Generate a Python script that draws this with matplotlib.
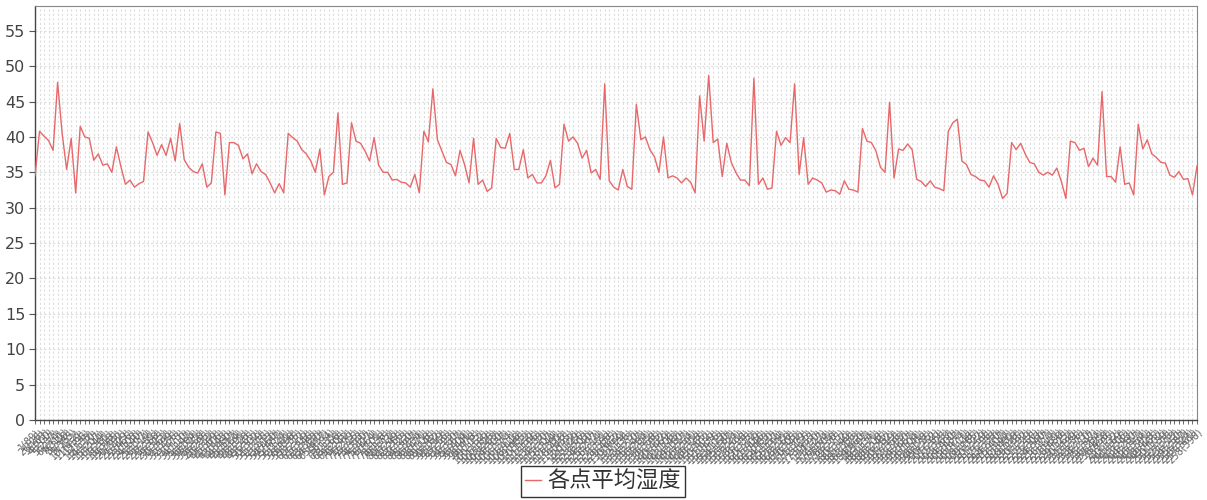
import matplotlib
matplotlib.use("Agg")
import matplotlib.pyplot as plt
from matplotlib.ticker import MultipleLocator

plt.rcParams['font.family'] = ['DejaVu Sans', 'Noto Sans CJK SC']

humidity = [
    34.5, 40.8, 40.1, 39.5, 38.1, 47.7, 40.5, 35.4, 39.8, 32.1,
    41.5, 40.0, 39.8, 36.7, 37.6, 36.0, 36.2, 35.0, 38.6, 35.8,
    33.3, 33.9, 32.9, 33.4, 33.7, 40.7, 39.2, 37.4, 38.9, 37.4,
    39.8, 36.6, 41.9, 36.8, 35.7, 35.1, 34.9, 36.2, 32.9, 33.5,
    40.7, 40.5, 31.8, 39.2, 39.2, 38.8, 36.9, 37.6, 34.8, 36.2,
    35.1, 34.7, 33.5, 32.1, 33.4, 32.1, 40.5, 39.9, 39.4, 38.2,
    37.6, 36.6, 35.0, 38.3, 31.8, 34.4, 35.0, 43.4, 33.3, 33.5,
    42.0, 39.4, 39.1, 38.0, 36.6, 39.9, 36.0, 35.0, 35.0, 33.9,
    34.0, 33.6, 33.5, 32.9, 34.7, 32.1, 40.8, 39.3, 46.8, 39.6,
    38.0, 36.4, 36.1, 34.5, 38.1, 36.1, 33.5, 39.8, 33.3, 33.9,
    32.3, 32.8, 39.8, 38.5, 38.4, 40.5, 35.4, 35.4, 38.2, 34.2,
    34.7, 33.5, 33.5, 34.5, 36.7, 32.8, 33.3, 41.8, 39.4, 40.0,
    39.1, 37.0, 38.1, 34.9, 35.4, 34.0, 47.5, 33.8, 32.9, 32.5,
    35.4, 33.0, 32.6, 44.6, 39.6, 40.0, 38.2, 37.2, 35.0, 40.0,
    34.2, 34.5, 34.2, 33.5, 34.2, 33.6, 32.1, 45.8, 39.4, 48.7,
    39.2, 39.7, 34.4, 39.1, 36.4, 35.0, 33.9, 33.9, 33.1, 48.3,
    33.3, 34.2, 32.6, 32.8, 40.8, 38.8, 39.9, 39.2, 47.5, 34.7,
    39.9, 33.3, 34.2, 33.9, 33.5, 32.2, 32.5, 32.4, 31.9, 33.8,
    32.6, 32.5, 32.2, 41.2, 39.4, 39.2, 38.0, 35.7, 35.0, 44.9,
    34.2, 38.3, 38.1, 39.0, 38.2, 34.0, 33.7, 33.0, 33.8, 32.9,
    32.7, 32.4, 40.8, 42.0, 42.5, 36.6, 36.1, 34.7, 34.4, 33.9,
    33.8, 32.9, 34.5, 33.3, 31.3, 32.0, 39.2, 38.2, 39.1, 37.6,
    36.4, 36.2, 35.0, 34.6, 35.0, 34.6, 35.6, 33.7, 31.3, 39.4,
    39.2, 38.1, 38.4, 35.8, 37.0, 36.0, 46.4, 34.4, 34.4, 33.6,
    38.6, 33.3, 33.5, 31.8, 41.8, 38.3, 39.6, 37.6, 37.1, 36.4,
    36.3, 34.6, 34.3, 35.1, 34.0, 34.1, 31.8, 35.9,
]
categories = [f"{i + 1}({(i * 37) % 400 + 89})" for i in range(len(humidity))]
series_name = "各点平均湿度"

W, H = 1207, 500
fig = plt.figure(figsize=(W / 100, H / 100), dpi=100)
ax = fig.add_axes([35 / W, 80 / H, 1162 / W, 414 / H])

x = list(range(len(humidity)))
ax.plot(x, humidity, color='#e8686a', linewidth=1.0, label=series_name, zorder=3)

ax.set_xlim(0, len(humidity) - 1)
ax.set_ylim(0, 58.5)
ax.yaxis.set_major_locator(MultipleLocator(5))
ax.set_xticks(x)
ax.set_xticklabels(categories, rotation=45, ha='right', rotation_mode='anchor',
                   fontsize=7, color='#666666')
ax.tick_params(axis='x', length=3, width=0.6, color='#555555', pad=2)
ax.tick_params(axis='y', length=4, width=0.8, color='#555555', labelsize=11.5,
               labelcolor='#444444', pad=3)

ax.grid(True, which='major', axis='both', linestyle=(0, (2, 2)),
        color='#dddddd', linewidth=0.8, zorder=0)

for side in ['top', 'right']:
    ax.spines[side].set_color('#888888')
    ax.spines[side].set_linewidth(0.8)
for side in ['left', 'bottom']:
    ax.spines[side].set_color('#444444')
    ax.spines[side].set_linewidth(1.0)

leg = fig.legend(loc='center', bbox_to_anchor=(603 / W, 1 - 481.5 / H),
                 prop={'family': ['Noto Sans CJK SC'], 'size': 16},
                 frameon=True, fancybox=False, handlelength=0.7,
                 handletextpad=0.3, borderpad=0.2, borderaxespad=0)
leg.get_frame().set_edgecolor('#000000')
leg.get_frame().set_linewidth(1.0)
for t in leg.get_texts():
    t.set_color('#333333')

fig.savefig('out.png', dpi=100)
